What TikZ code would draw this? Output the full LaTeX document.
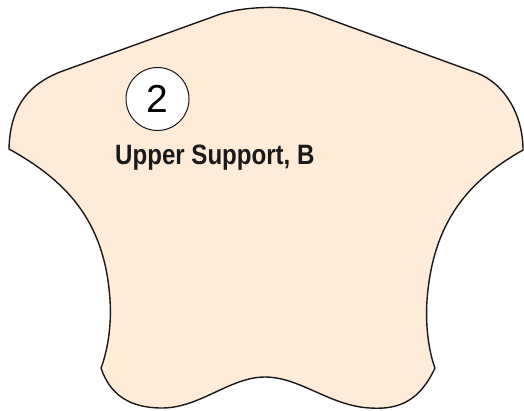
\documentclass[tikz,border=0pt]{standalone}
\usepackage{fontspec}
\usepackage{tikz}
\newfontfamily\helv{Liberation Sans}
\newfontfamily\helvcond[FakeStretch=0.86]{Liberation Sans}
\definecolor{peach}{RGB}{254,236,216}

\begin{document}
\begin{tikzpicture}[x=1pt,y=-1pt,
		outline/.style={draw=black!90,line width=1.4pt,fill=peach,line join=round},
		badge/.style={circle,draw=black!90,line width=1pt,fill=white,minimum size=63pt,inner sep=0pt,font=\helv\fontsize{39}{40}\selectfont},
		partname/.style={anchor=base west,inner sep=0pt,text=black!90,font=\helvcond\bfseries\fontsize{28}{32}\selectfont}]
	\useasboundingbox (0,0) rectangle (524,410);
	%% define outline of the part
	\draw[outline] (9,149)
		.. controls (10,105) and (30,84) .. (60,72)
		-- (215,16)
		.. controls (240,6) and (290,4) .. (315,14)
		-- (477,73)
		.. controls (505,84) and (523,115) .. (523,150)
		.. controls (470,180) and (433,220) .. (427,300)
		.. controls (425,330) and (430,355) .. (435,368)
		.. controls (420,400) and (400,410) .. (370,408)
		.. controls (330,406) and (300,377) .. (265,377)
		.. controls (230,377) and (200,408) .. (162,408)
		.. controls (130,408) and (110,395) .. (101,368)
		.. controls (106,355) and (112,330) .. (110,300)
		.. controls (105,220) and (65,180) .. (9,149) -- cycle;
	%% define labels
	\node (num) at (157.5,99) [badge] {2};
	\node (name) at (115,164) [partname] {Upper Support, B};
\end{tikzpicture}
\end{document}
